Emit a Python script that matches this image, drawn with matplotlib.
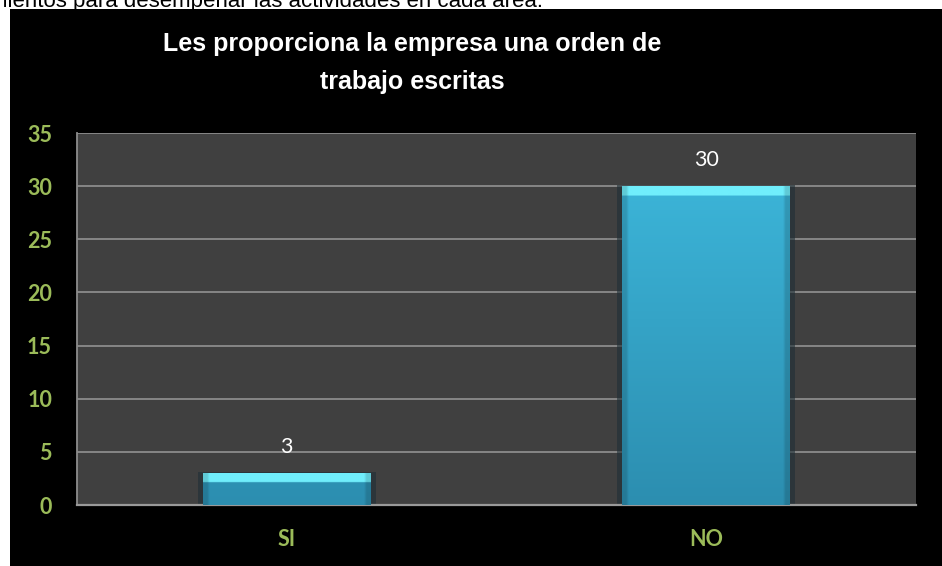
import numpy as np
from matplotlib import pyplot as plt
from matplotlib.patches import Rectangle

# datos del grafico
categorias = ["SI", "NO"]
valores = [3, 30]
yticks = [0, 5, 10, 15, 20, 25, 30, 35]

titulo = "Les proporciona la empresa una orden de\ntrabajo escritas"
texto_arriba = "procedimientos para desempeñar las actividades en cada área."

verde = "#9BBB59"
gris_fondo = "#404040"
gris_linea = "#8C8C8C"

W, H = 942, 566
fig = plt.figure(figsize=(W / 100, H / 100), dpi=100, facecolor="white")

# fondo negro del grafico
fig.patches.append(Rectangle((10 / W, 0), 1, 1 - 9 / H, transform=fig.transFigure,
                             facecolor="black", edgecolor="none", zorder=-5))

# texto cortado de la pagina
fig.text(543 / W, 1 - 6.5 / H, texto_arriba, ha="right", va="baseline",
         fontsize=16, family="Liberation Sans", color="black", zorder=-4)

ax = fig.add_axes([77 / W, 1 - 505 / H, (916 - 77) / W, (505 - 133) / H])
ax.set_zorder(2)
ax.set_facecolor(gris_fondo)
ax.set_xlim(-0.5, len(categorias) - 0.5)
ax.set_ylim(0, 35)
ax.set_yticks(yticks)
ax.set_xticks(range(len(categorias)))
ax.set_xticklabels(categorias)
ax.yaxis.grid(True, color=gris_linea, linewidth=1.3)
ax.set_axisbelow(True)
for s in ["top", "right"]:
    ax.spines[s].set_visible(False)
ax.spines["left"].set_color(gris_linea)
ax.spines["left"].set_linewidth(1.3)
ax.spines["bottom"].set_color("#9a9a9a")
ax.spines["bottom"].set_linewidth(1.6)
ax.tick_params(length=0)
ax.tick_params(axis="y", pad=18)
ax.tick_params(axis="x", pad=17)
for lb in ax.get_yticklabels() + ax.get_xticklabels():
    lb.set_color(verde)
    lb.set_fontweight("bold")
    lb.set_fontfamily("Lato")
    lb.set_fontsize(15.5)

ancho = 0.4
alto_brillo = 0.85  # franja clara arriba (unidades de datos)
for i, v in enumerate(valores):
    x0 = i - ancho / 2
    # sombra
    ax.add_patch(Rectangle((i - ancho / 2 - 0.012, 0), ancho + 0.024, v + 0.08,
                           facecolor="#1f2f36", edgecolor="none", alpha=0.6, zorder=2))
    # degradado
    filas = 200
    ys = np.linspace(v, 0, filas)
    cols = 60
    xs = np.linspace(0, 1, cols)
    img = np.zeros((filas, cols, 3))
    top = np.array([0x3E, 0xBA, 0xDE]) / 255
    bot = np.array([0x2C, 0x8E, 0xB0]) / 255
    hi = np.array([0x70, 0xEE, 0xFC]) / 255
    for r, yy in enumerate(ys):
        f = yy / 35
        c = bot + (top - bot) * f
        if yy > v - alto_brillo:
            c = hi
        img[r, :, :] = c
    borde = 1 - 0.15 * (np.abs(xs - 0.5) > 0.47)
    img = img * borde[None, :, None]
    ax.imshow(img, extent=[x0, x0 + ancho, 0, v], aspect="auto",
              interpolation="bilinear", zorder=3)
    ax.text(i, v + 1.55, str(v), ha="center", va="bottom", color="white",
            fontsize=15.5, family="Lato", zorder=4)

ax.set_xlim(-0.5, len(categorias) - 0.5)
ax.set_ylim(0, 35)

fig.text(412 / W, 1 - 63 / H, titulo, ha="center", va="center", color="white",
         fontsize=18, fontweight="bold", family="Liberation Sans", linespacing=1.7)

fig.savefig("out.png", dpi=100, facecolor="white")
